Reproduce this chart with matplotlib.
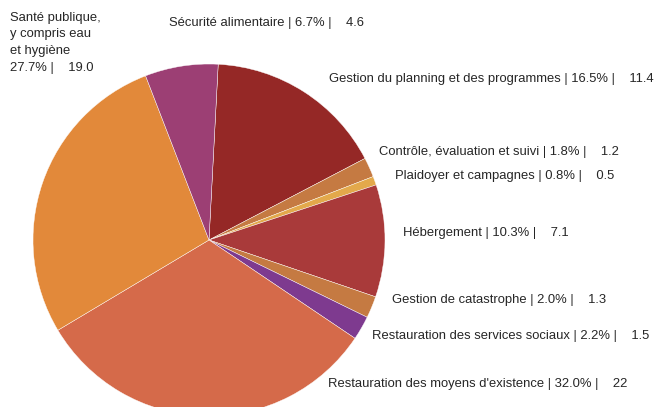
import matplotlib
matplotlib.use("Agg")
import matplotlib.pyplot as plt

categories = ["Gestion du planning et des programmes", "Contrôle, évaluation et suivi",
              "Plaidoyer et campagnes", "Hébergement", "Gestion de catastrophe",
              "Restauration des services sociaux", "Restauration des moyens d'existence",
              "Santé publique,\ny compris eau\net hygiène", "Sécurité alimentaire"]
percents = [16.5, 1.8, 0.8, 10.3, 2.0, 2.2, 32.0, 27.7, 6.7]
values = ["11.4", "1.2", "0.5", "7.1", "1.3", "1.5", "22", "19.0", "4.6"]
colors = ["#952826", "#C57A42", "#E3A94B", "#A93A3A", "#C57A42",
          "#7E3A8F", "#D56A4A", "#E2893A", "#9C3F74"]

W, H = 659, 407
fig = plt.figure(figsize=(W / 100, H / 100), dpi=100)
cx, cy, r = 209, 240, 176
ax = fig.add_axes([(cx - r) / W, (H - cy - r) / H, 2 * r / W, 2 * r / H])
ax.pie(percents, colors=colors, startangle=87, counterclock=False, radius=1,
       wedgeprops=dict(edgecolor="white", linewidth=0.3))
ax.set_xlim(-1, 1)
ax.set_ylim(-1, 1)
ax.set_aspect("equal")
ax.axis("off")

# label positions (pixel coords: left x, center y)
label_pos = [(329, 79), (379, 152), (395, 176), (403, 233), (392, 300),
             (372, 336), (328, 384), (10, 40), (169, 23)]
for cat, p, v, (x, y) in zip(categories, percents, values, label_pos):
    if "\n" in cat:
        txt = f"{cat}\n{p:.1f}% |    {v}"
        fig.text(x / W, 1 - 12 / H, txt, ha="left", va="top", fontsize=9.4,
                 family="Liberation Sans", color="#262626", linespacing=1.5)
    else:
        txt = f"{cat} | {p:.1f}% |    {v}"
        fig.text(x / W, 1 - y / H, txt, ha="left", va="center", fontsize=9.4,
                 family="Liberation Sans", color="#262626")

fig.savefig("out.png", dpi=100)
